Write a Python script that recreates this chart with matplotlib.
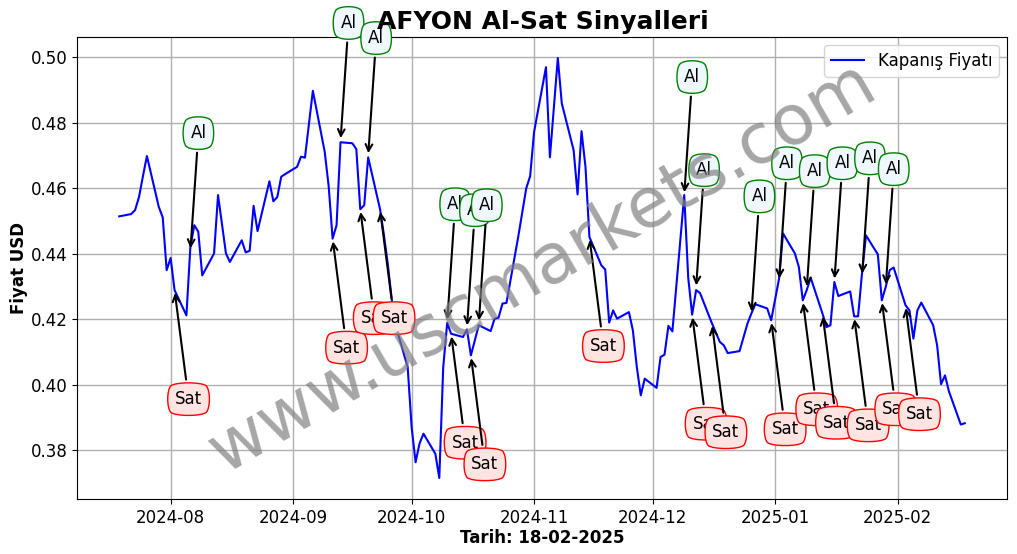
import matplotlib
matplotlib.use("Agg")
import matplotlib.pyplot as plt
import matplotlib.dates as mdates
import pandas as pd

# one row per trading week, starts on Friday 2024-07-19
dates = pd.bdate_range("2024-07-19", "2025-02-18")
prices = [
    0.4514,
    0.4521, 0.4533, 0.4573, 0.4637, 0.4698,
    0.4543, 0.4511, 0.4350, 0.4387, 0.4289,
    0.4212, 0.4421, 0.4487, 0.4467, 0.4334,
    0.4401, 0.4579, 0.4490, 0.4401, 0.4375,
    0.4441, 0.4404, 0.4409, 0.4546, 0.4469,
    0.4621, 0.4560, 0.4573, 0.4635, 0.4643,
    0.4665, 0.4696, 0.4693, 0.4795, 0.4897,
    0.4711, 0.4606, 0.4446, 0.4487, 0.4740,
    0.4737, 0.4719, 0.4536, 0.4548, 0.4694,
    0.4536, 0.4456, 0.4365, 0.4258, 0.4179,
    0.4054, 0.3871, 0.3764, 0.3821, 0.3851,
    0.3790, 0.3716, 0.4054, 0.4189, 0.4156,
    0.4146, 0.4169, 0.4090, 0.4136, 0.4182,
    0.4164, 0.4202, 0.4205, 0.4248, 0.4250,
    0.4453, 0.4527, 0.4599, 0.4637, 0.4772,
    0.4969, 0.4694, 0.4847, 0.4997, 0.4859,
    0.4716, 0.4581, 0.4774, 0.4665, 0.4451,
    0.4365, 0.4352, 0.4190, 0.4227, 0.4202,
    0.4222, 0.4166, 0.4054, 0.3968, 0.4019,
    0.3991, 0.4085, 0.4092, 0.4180, 0.4163,
    0.4579, 0.4328, 0.4214, 0.4289, 0.4280,
    0.4188, 0.4160, 0.4131, 0.4121, 0.4097,
    0.4103, 0.4145, 0.4187, 0.4218, 0.4246,
    0.4233, 0.4197, 0.4261, 0.4324, 0.4462,
    0.4401, 0.4360, 0.4258, 0.4289, 0.4327,
    0.4217, 0.4176, 0.4182, 0.4314, 0.4271,
    0.4285, 0.4209, 0.4209, 0.4341, 0.4456,
    0.4398, 0.4258, 0.4299, 0.4350, 0.4358,
    0.4243, 0.4227, 0.4141, 0.4227, 0.4251,
    0.4182, 0.4121, 0.4002, 0.4029, 0.3980,
    0.3879, 0.3883,
]
buy_dates = ["2024-08-06", "2024-09-13", "2024-09-20", "2024-10-10", "2024-10-15",
             "2024-10-18", "2024-12-09", "2024-12-12", "2024-12-26", "2025-01-02",
             "2025-01-09", "2025-01-16", "2025-01-23", "2025-01-29"]
buy_levels = [0.4408, 0.4744, 0.4698, 0.4191, 0.4173,
              0.4188, 0.4579, 0.4295, 0.4215, 0.4316,
              0.4292, 0.4316, 0.4331, 0.4298]
sell_dates = ["2024-08-02", "2024-09-11", "2024-09-18", "2024-09-23", "2024-10-11",
              "2024-10-16", "2024-11-15", "2024-12-11", "2024-12-16", "2024-12-31",
              "2025-01-08", "2025-01-13", "2025-01-21", "2025-01-28", "2025-02-03"]

series = pd.Series(prices, index=dates)

fig, ax = plt.subplots(figsize=(10.17, 5.54), dpi=100)
fig.subplots_adjust(left=0.0757, right=0.9902, top=0.9332, bottom=0.0993)

ax.plot(series.index, series.values, color="blue", lw=1.5, label="Kapanış Fiyatı")

# Signals
for d, level in zip(buy_dates, buy_levels):
    ax.annotate("Al", xy=(pd.Timestamp(d), level), xytext=(8, 118), textcoords="offset pixels",
                ha="center", va="center", fontsize=12,
                bbox=dict(boxstyle="round4,pad=0.5", edgecolor="green", facecolor="aliceblue"),
                arrowprops=dict(arrowstyle="->", color="black", lw=1.5))
for d in sell_dates:
    day = pd.Timestamp(d)
    ax.annotate("Sat", xy=(day, series[day]), xytext=(14, -109), textcoords="offset pixels",
                ha="center", va="center", fontsize=12,
                bbox=dict(boxstyle="round4,pad=0.5", edgecolor="red", facecolor="mistyrose"),
                arrowprops=dict(arrowstyle="->", color="black", lw=1.5))

ax.xaxis.set_major_locator(mdates.MonthLocator())
ax.xaxis.set_major_formatter(mdates.DateFormatter("%Y-%m"))
ax.tick_params(labelsize=12)
ax.grid(True, color="#b0b0b0", lw=1)
ax.set_title("AFYON Al-Sat Sinyalleri", fontsize=18, fontweight="bold", pad=6, x=0.501)
ax.set_xlabel("Tarih: 18-02-2025", fontsize=12, fontweight="bold", labelpad=2)
ax.set_ylabel("Fiyat USD", fontsize=12, fontweight="bold", labelpad=2)
ax.legend(loc="upper right", fontsize=12)

ax.text(0.5, 0.5, "www.uscmarkets.com", transform=ax.transAxes, fontsize=50, color="gray",
        alpha=0.7, rotation=30, ha="center", va="center", zorder=10)

fig.savefig("out.png", dpi=100)
